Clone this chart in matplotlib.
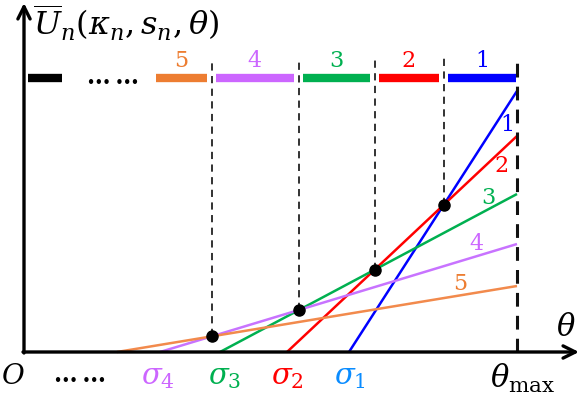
import numpy as np
import matplotlib
matplotlib.use("Agg")
import matplotlib.pyplot as plt

plt.rcParams['mathtext.fontset'] = 'dejavuserif'
plt.rcParams['font.family'] = ['DejaVu Serif']

# utility lines: start point on theta axis, value at theta_max
names = ["1", "2", "3", "4", "5"]
theta0 = [349, 287, 220, 160, 117]
u_end = [261, 216, 158, 108, 66]
line_colors = ["#0000FF", "#FF0000", "#00B050", "#C873FF", "#F28A4C"]
seg_colors = ["#0000FF", "#FF0000", "#00B050", "#CC66FF", "#ED7D31"]
sigma_labels = [r"$\sigma_1$", r"$\sigma_2$", r"$\sigma_3$", r"$\sigma_4$"]
sigma_colors = ["#0A8CFF", "#FF0000", "#00B050", "#CC66FF"]
theta_max = 517
orange_start = 156

fig = plt.figure(figsize=(5.82, 3.98), dpi=100)
ax = fig.add_axes([0, 0, 1, 1])
ax.set_xlim(0, 582)
ax.set_ylim(-46, 352)
ax.axis("off")

slopes = [u / (theta_max - t) for t, u in zip(theta0, u_end)]

# lines
for t, u, c in zip(theta0, u_end, line_colors):
    ax.plot([t, theta_max], [0, u], color=c, lw=1.8, solid_capstyle="butt")

# intersections of consecutive lines
cross = []
for i in range(4):
    a1, b1 = slopes[i], theta0[i]
    a2, b2 = slopes[i + 1], theta0[i + 1]
    x = (a1 * b1 - a2 * b2) / (a1 - a2)
    cross.append((x, a1 * (x - b1)))

bar_y = 274
for x, y in cross:
    ax.plot([x, x], [y, 294], color="#222222", lw=1.3, ls=(0, (4, 3)))
    ax.plot(x, y, "o", color="black", ms=8, zorder=5)
ax.plot([theta_max, theta_max], [0, 292], color="#111111", lw=2.2, ls=(0, (4.5, 3)))

# segment bar on top
xs = [theta_max] + [c[0] for c in cross] + [orange_start]
for i in range(5):
    right = xs[i] - (1 if i == 0 else 5)
    left = xs[i + 1] + (4 if i < 4 else 0)
    ax.plot([left, right], [bar_y, bar_y], color=seg_colors[i], lw=6,
            solid_capstyle="butt")
    ax.text((left + right) / 2, bar_y + 6, names[i], color=seg_colors[i],
            fontsize=16, ha="center", va="bottom")
ax.plot([28, 62], [bar_y, bar_y], color="black", lw=6, solid_capstyle="butt")
ax.text(113, bar_y + 1, "\u2026\u2009\u2026", fontsize=17, fontweight="bold",
        ha="center", va="center")

# line labels near the right end
lab_pos = [(507, 227), (502, 186), (488, 154), (476, 108), (460, 68)]
for (x, y), n in zip(lab_pos, names):
    ax.text(x, y, n, color=seg_colors[names.index(n)], fontsize=16,
            ha="center", va="center")

# axes with arrows
ax.annotate("", xy=(579, 0), xytext=(23, 0),
            arrowprops=dict(arrowstyle="->", lw=2.4, mutation_scale=22, color="black",
                            shrinkA=0, shrinkB=0))
ax.annotate("", xy=(24, 349), xytext=(24, -1),
            arrowprops=dict(arrowstyle="->", lw=2.4, mutation_scale=22, color="black",
                            shrinkA=0, shrinkB=0))

ax.text(33, 329, r"$\overline{U}_n(\kappa_n, s_n, \theta)$", fontsize=23,
        ha="left", va="center")
ax.text(566, 25, r"$\theta$", fontsize=22, ha="center", va="center")
ax.text(523, -26, r"$\theta_{\mathrm{max}}$", fontsize=22, ha="center", va="center")
ax.text(13, -25, r"$O$", fontsize=20, ha="center", va="center")
ax.text(80, -23, "\u2026\u2009\u2026", fontsize=17, fontweight="bold",
        ha="center", va="center")

sig_x = [350, 287, 225, 158]
for x, s, c in zip(sig_x, sigma_labels, sigma_colors):
    ax.text(x, -25, s, color=c, fontsize=21, ha="center", va="center")

fig.savefig("out.png", dpi=100)
